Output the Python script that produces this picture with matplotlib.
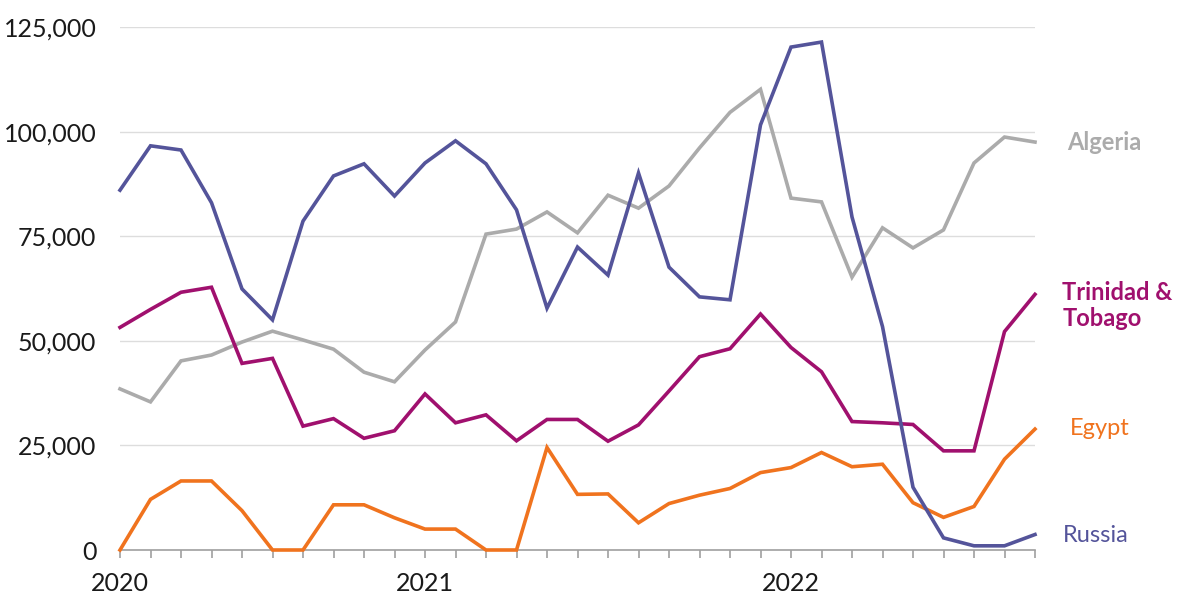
import matplotlib
matplotlib.use("Agg")
import matplotlib.pyplot as plt
from matplotlib.ticker import FuncFormatter

months = ["2020-03", "2020-04", "2020-05", "2020-06", "2020-07", "2020-08", "2020-09",
          "2020-10", "2020-11", "2020-12", "2021-01", "2021-02", "2021-03", "2021-04",
          "2021-05", "2021-06", "2021-07", "2021-08", "2021-09", "2021-10", "2021-11",
          "2021-12", "2022-01", "2022-02", "2022-03", "2022-04", "2022-05", "2022-06",
          "2022-07", "2022-08", "2022-09"]

russia = [86000, 96600, 95600, 83000, 62400, 55000, 78600, 89400, 92300, 84600, 92500,
          97800, 92300, 81300, 57800, 72400, 65700, 90100, 67600, 60500, 59800, 101600,
          120200, 121400, 79600, 53400, 15000, 2900, 1000, 1000, 3700]
algeria = [38500, 35400, 45200, 46600, 49700, 52300, 50200, 48000, 42500, 40200, 47800,
           54500, 75500, 76700, 80800, 75800, 84800, 81700, 87000, 96100, 104600, 110100,
           84100, 83200, 65200, 77000, 72200, 76500, 92500, 98700, 97500]
trinidad = [53200, 57500, 61600, 62800, 44600, 45800, 29600, 31400, 26700, 28500, 37300,
            30400, 32300, 26100, 31200, 31200, 26000, 29900, 38000, 46200, 48100, 56400,
            48400, 42600, 30700, 30400, 30000, 23700, 23700, 52200, 61100]
egypt = [0, 12100, 16500, 16500, 9400, 0, 0, 10800, 10800, 7700, 5000, 5000, 0, 0, 24500,
         13300, 13400, 6500, 11100, 13100, 14700, 18500, 19700, 23300, 19900, 20500, 11300,
         7800, 10400, 21700, 28900]

year_labels = {"2020-03": "2020", "2021-01": "2021", "2022-01": "2022"}
yticks = [0, 25000, 50000, 75000, 100000, 125000]

c_russia = "#54549A"
c_algeria = "#ABABAB"
c_trinidad = "#A0106E"
c_egypt = "#F0731E"

plt.rcParams['font.family'] = ['Lato', 'DejaVu Sans']

fig = plt.figure(figsize=(12, 6.04), dpi=100)
ax = fig.add_axes([0.1, 54/604, (1035-120)/1200, (550-27)/604])

x = list(range(len(months)))
lw = 2.6
ax.plot(x, algeria, color=c_algeria, lw=lw, clip_on=False, zorder=3, solid_joinstyle='miter')
ax.plot(x, trinidad, color=c_trinidad, lw=lw, clip_on=False, zorder=4, solid_joinstyle='miter')
ax.plot(x, egypt, color=c_egypt, lw=lw, clip_on=False, zorder=5, solid_joinstyle='miter')
ax.plot(x, russia, color=c_russia, lw=lw, clip_on=False, zorder=6, solid_joinstyle='miter')

ax.set_xlim(0, len(months) - 1)
ax.set_ylim(0, 125000)
ax.set_yticks(yticks)
ax.yaxis.set_major_formatter(FuncFormatter(lambda v, p: f"{int(v):,}"))
ax.grid(axis='y', color='#DDDDDD', lw=1)
ax.set_axisbelow(True)

ax.set_xticks(x)
ax.set_xticklabels([year_labels.get(m, "") for m in months])

for s in ['top', 'right', 'left']:
    ax.spines[s].set_visible(False)
ax.spines['bottom'].set_color('#A0A0A0')
ax.spines['bottom'].set_linewidth(1.2)
ax.spines['bottom'].set_zorder(2)

ax.tick_params(axis='y', length=0, pad=17, labelsize=18, labelcolor='#1a1a1a')
ax.tick_params(axis='x', length=6, width=1.2, color='#A0A0A0', pad=10, labelsize=18,
               labelcolor='#1a1a1a')

# direct labels
ax.text(31.05, algeria[-1], "Algeria", color=c_algeria, fontsize=17, fontweight='bold',
        va='center', ha='left', clip_on=False, transform=ax.transData)
ax.text(30.9, 58500, "Trinidad &\nTobago", color=c_trinidad, fontsize=17, fontweight='bold',
        va='center', ha='left', linespacing=1.15, clip_on=False)
ax.text(31.15, 29000, "Egypt", color=c_egypt, fontsize=17, va='center', ha='left', clip_on=False)
ax.text(30.9, 3400, "Russia", color=c_russia, fontsize=17, va='center', ha='left', clip_on=False)

fig.savefig("out.png", dpi=100, facecolor='white')
